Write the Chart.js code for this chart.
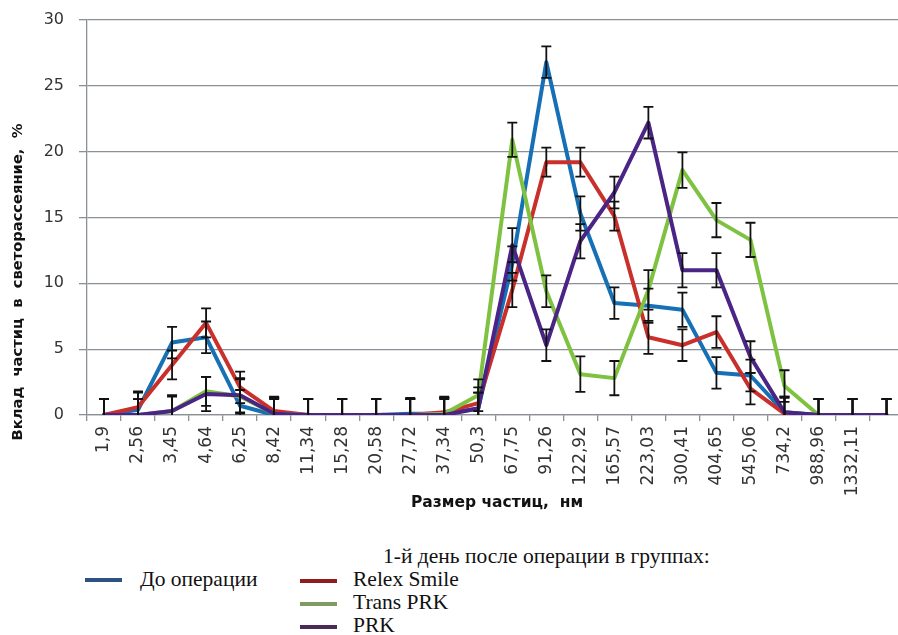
<!DOCTYPE html>
<html>
<head>
<meta charset="utf-8">
<script src="https://cdn.jsdelivr.net/npm/chart.js@4/dist/chart.umd.min.js"></script>
<style>
  html, body { margin: 0; padding: 0; background: #fff; overflow: hidden; width: 898px; height: 635px; }
  #wrap { position: absolute; left: 0; top: 0; width: 912px; height: 530px; }
  .lg { position: absolute; font-family: "Liberation Serif", "Times New Roman", serif; font-size: 21.5px; color: #111; white-space: nowrap; line-height: 1; }
  .sw { position: absolute; width: 37px; height: 4px; }
</style>
</head>
<body>
<div id="wrap"><canvas id="c" width="912" height="530"></canvas></div>

<div class="sw" style="left:85px;top:578px;background:#2d5282;"></div>
<div class="lg" style="left:140px;top:569px;">До операции</div>

<div class="lg" style="left:383px;top:546px;">1-й день после операции в группах:</div>
<div class="sw" style="left:300px;top:579px;background:#8e1d1d;"></div>
<div class="lg" style="left:353px;top:569px;">Relex Smile</div>
<div class="sw" style="left:300px;top:602px;background:#7f9b5f;"></div>
<div class="lg" style="left:353px;top:592px;">Trans PRK</div>
<div class="sw" style="left:300px;top:625px;background:#4a2b58;"></div>
<div class="lg" style="left:353px;top:615px;">PRK</div>

<script>
// Particle size bins, nm (last bin label not shown)
const sizes = ['1,9','2,56','3,45','4,64','6,25','8,42','11,34','15,28','20,58','27,72','37,34','50,3',
               '67,75','91,26','122,92','165,57','223,03','300,41','404,65','545,06','734,2','988,96','1332,11',''];

// Contribution to light scattering, %
const beforeSurgery = [0, 0.4, 5.5, 5.9, 0.7, 0, 0, 0, 0, 0.1, 0.1, 0.5,
                       11.5, 26.8, 15.3, 8.5, 8.3, 8.0, 3.2, 3.0, 0.2, 0, 0, 0];
const relexSmile    = [0, 0.6, 3.8, 7.0, 2.1, 0.3, 0, 0, 0, 0, 0.2, 0.9,
                       9.5, 19.2, 19.2, 15.1, 5.9, 5.3, 6.3, 2.0, 0.1, 0, 0, 0];
const transPRK      = [0, 0, 0.3, 1.8, 1.4, 0.1, 0, 0, 0, 0, 0.1, 1.5,
                       20.9, 9.4, 3.1, 2.8, 9.5, 18.6, 14.8, 13.3, 2.2, 0, 0, 0];
const prk           = [0, 0, 0.3, 1.6, 1.5, 0.1, 0, 0, 0, 0, 0, 0.5,
                       12.9, 5.3, 13.2, 16.9, 22.2, 11.0, 11.0, 4.4, 0.2, 0, 0, 0];

// Standard error bars (±)
const errBefore = [1.2, 1.3, 1.2, 1.2, 1.2, 1.2, 1.2, 1.2, 1.2, 1.2, 1.2, 1.2,
                   1.3, 1.2, 1.3, 1.2, 1.3, 1.3, 1.2, 1.2, 1.2, 1.2, 1.2, 1.2];
const errRelex  = [1.2, 1.2, 1.1, 1.1, 1.2, 1.1, 1.2, 1.2, 1.2, 1.2, 1.2, 1.2,
                   1.3, 1.1, 1.1, 1.1, 1.25, 1.2, 1.2, 1.2, 1.2, 1.2, 1.2, 1.2];
const errTrans  = [1.2, 1.2, 1.2, 1.1, 1.3, 1.2, 1.2, 1.2, 1.2, 1.2, 1.2, 1.2,
                   1.3, 1.2, 1.35, 1.3, 1.5, 1.35, 1.3, 1.3, 1.2, 1.2, 1.2, 1.2];
const errPRK    = [1.2, 1.2, 1.1, 1.3, 1.3, 1.2, 1.2, 1.2, 1.2, 1.2, 1.2, 1.2,
                   1.3, 1.2, 1.3, 1.2, 1.2, 1.3, 1.3, 1.2, 1.2, 1.2, 1.2, 1.2];

const yTicks = [0, 5, 10, 15, 20, 25, 30];

const axisColor = '#8a9096';

// Vertical error bars with caps, clipped to the plot area
const errorBars = {
  id: 'errorBars',
  afterDatasetsDraw(chart) {
    const { ctx, chartArea: a, scales: { y } } = chart;
    ctx.save();
    ctx.beginPath();
    ctx.rect(a.left, a.top - 12, a.right - a.left, a.bottom - a.top + 12);
    ctx.clip();
    ctx.strokeStyle = '#111';
    ctx.lineWidth = 1.8;
    chart.data.datasets.forEach((ds, di) => {
      const meta = chart.getDatasetMeta(di);
      ds.errors.forEach((e, i) => {
        const x = meta.data[i].x;
        const v = ds.data[i];
        const yt = y.getPixelForValue(v + e);
        const yb = y.getPixelForValue(v - e);
        ctx.beginPath();
        ctx.moveTo(x, yt); ctx.lineTo(x, yb);
        ctx.moveTo(x - 5, yt); ctx.lineTo(x + 5, yt);
        ctx.moveTo(x - 5, yb); ctx.lineTo(x + 5, yb);
        ctx.stroke();
      });
    });
    ctx.restore();
  }
};

// Axis titles
const axisTitles = {
  id: 'axisTitles',
  afterDraw(chart) {
    const { ctx } = chart;
    ctx.save();
    ctx.fillStyle = '#111';
    ctx.textAlign = 'center';
    ctx.textBaseline = 'middle';
    ctx.font = 'bold 15.5px "DejaVu Sans"';
    ctx.fillText('Размер частиц,  нм', 497, 503);
    ctx.font = 'bold 14.7px "DejaVu Sans"';
    ctx.translate(18, 282);
    ctx.rotate(-Math.PI / 2);
    ctx.fillText('Вклад  частиц  в  светорассеяние,  %', 0, 0);
    ctx.restore();
  }
};

const mk = (label, data, errors, color) => ({
  label, data, errors,
  borderColor: color, backgroundColor: color,
  borderWidth: 4, pointRadius: 0, tension: 0,
  borderJoinStyle: 'round', borderCapStyle: 'round', fill: false
});

new Chart(document.getElementById('c'), {
  type: 'line',
  data: {
    labels: sizes,
    datasets: [
      mk('PRK', prk, errPRK, '#4a2585'),
      mk('Trans PRK', transPRK, errTrans, '#7fc241'),
      mk('Relex Smile', relexSmile, errRelex, '#c9302b'),
      mk('До операции', beforeSurgery, errBefore, '#1670b5')
    ]
  },
  options: {
    responsive: false,
    devicePixelRatio: 1,
    animation: false,
    layout: { padding: { top: 20, right: 2, left: 0, bottom: 0 } },
    plugins: { legend: { display: false }, tooltip: { enabled: false } },
    scales: {
      x: {
        offset: true,
        grid: { offset: true, drawOnChartArea: false, drawTicks: true, tickLength: 6, color: axisColor, lineWidth: 1.3 },
        border: { color: axisColor, width: 1.3 },
        ticks: { autoSkip: false, maxRotation: 90, minRotation: 90, padding: 5,
                 color: '#333', font: { family: 'DejaVu Sans', size: 17 } },
        afterFit(s) { s.height = 115; }
      },
      y: {
        min: 0, max: 30,
        afterBuildTicks(s) { s.ticks = yTicks.map(v => ({ value: v })); },
        grid: { color: axisColor, lineWidth: 1.3, tickLength: 8 },
        border: { color: axisColor, width: 1.3 },
        ticks: { padding: 15, color: '#333', font: { family: 'DejaVu Sans', size: 16, lineHeight: 0.5 } },
        afterFit(s) { s.width = 87; }
      }
    }
  },
  plugins: [errorBars, axisTitles]
});
</script>
</body>
</html>
